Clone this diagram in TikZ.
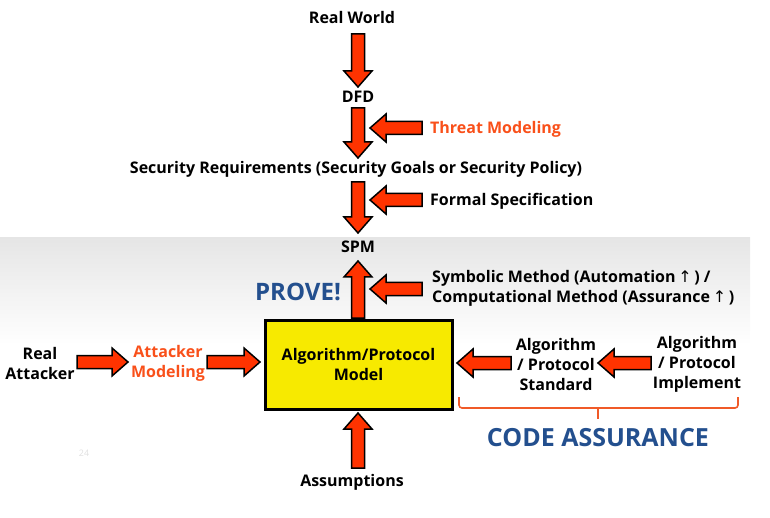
\documentclass[tikz,border=0pt]{standalone}
\usepackage{fontspec}
\setmainfont{Open Sans}[BoldFont={Open Sans Bold}]
\newfontfamily\symf{DejaVu Sans}
\usetikzlibrary{calc}
\definecolor{arrowred}{HTML}{FF3300}
\definecolor{txtorange}{HTML}{F9501A}
\definecolor{bracketorange}{HTML}{F05A28}
\definecolor{provblue}{HTML}{234F8E}
\definecolor{boxyellow}{HTML}{F7EA00}
\newcommand{\uparr}{{\symf\fontseries{m}\selectfont ↑}}
\tikzset{
  lbl/.style={font=\fontsize{16}{20}\selectfont\bfseries, inner sep=0pt, align=center},
  lblo/.style={lbl, text=txtorange},
  big/.style={font=\fontsize{24}{28}\selectfont\bfseries, text=provblue, inner sep=0pt},
  blockarrow/.style={draw=black, line width=1.5pt, fill=arrowred, line join=miter,
    to path={
      ($(\tikztostart)!6.5pt!90:(\tikztotarget)$) --
      ($(\tikztotarget)!16pt!(\tikztostart)!6.5pt!90:(\tikztotarget)$) --
      ($(\tikztotarget)!16pt!(\tikztostart)!14pt!90:(\tikztotarget)$) --
      (\tikztotarget) --
      ($(\tikztotarget)!16pt!(\tikztostart)!14pt!-90:(\tikztotarget)$) --
      ($(\tikztotarget)!16pt!(\tikztostart)!6.5pt!-90:(\tikztotarget)$) --
      ($(\tikztostart)!6.5pt!-90:(\tikztotarget)$) -- cycle
    }},
  bracket/.style={draw=bracketorange, line width=1.6pt, rounded corners=3pt}
}
\begin{document}
\begin{tikzpicture}[x=1pt,y=-1pt]
\useasboundingbox (0,0) rectangle (770,518);
% background band
\shade[top color=black!10, bottom color=white] (0,238) rectangle (750,345);
\node[text=black!12, font=\fontsize{9}{10}\selectfont] (pg) at (84,453) {24};

% texts
\node[lbl] (rw) at (352,18) {Real World};
\node[lbl] (dfd) at (358,97) {DFD};
\node[lbl] (sr) at (356,169) {Security Requirements (Security Goals or Security Policy)};
\node[lbl] (spm) at (358,247) {SPM};
\node[lblo, anchor=west] (tm) at (430,129) {Threat Modeling};
\node[lbl, anchor=west] (fs) at (430,201) {Formal Specification};
\node[lbl, anchor=west, align=left] (sym) at (432,288) {Symbolic Method (Automation\,\uparr\,) /\\Computational Method (Assurance\,\uparr\,)};
\node[big] (prove) at (298,292) {PROVE!};
\node[draw=black, line width=3pt, fill=boxyellow, minimum width=187pt, minimum height=89pt, lbl] (model) at (358.5,364.5) {Algorithm/Protocol\\Model};
\node[lbl] (ra) at (40,363) {Real\\Attacker};
\node[lblo] (am) at (168,363) {Attacker\\Modeling};
\node[lbl] (std) at (556,364) {Algorithm\\/ Protocol\\Standard};
\node[lbl] (impl) at (697,364) {Algorithm\\/ Protocol\\Implement};
\node[big, font=\fontsize{25}{28}\selectfont\bfseries] (code) at (598,438) {CODE ASSURANCE};
\node[lbl] (as) at (352,482) {Assumptions};

% arrow end points
\coordinate (a1s) at (358,34);  \coordinate (a1e) at (358,87);
\coordinate (a2s) at (358,108); \coordinate (a2e) at (358,158);
\coordinate (a3s) at (358,182); \coordinate (a3e) at (358,233);
\coordinate (a4s) at (358,318); \coordinate (a4e) at (358,261);
\coordinate (a5s) at (358,468); \coordinate (a5e) at (358,413);
\coordinate (h1s) at (422,128); \coordinate (h1e) at (370,128);
\coordinate (h2s) at (422,200); \coordinate (h2e) at (370,200);
\coordinate (h3s) at (422,289); \coordinate (h3e) at (370,289);
\coordinate (h4s) at (77,362);  \coordinate (h4e) at (128,362);
\coordinate (h5s) at (207,362); \coordinate (h5e) at (260,362);
\coordinate (h6s) at (511,363); \coordinate (h6e) at (457,363);
\coordinate (h7s) at (651,363); \coordinate (h7e) at (598,363);

\foreach \a in {a1,a2,a3,a4,a5,h1,h2,h3,h4,h5,h6,h7}
  \draw[blockarrow] (\a s) to (\a e);

% bracket
\coordinate (bl) at (459,397); \coordinate (br) at (738,397);
\coordinate (bm) at (598,408); \coordinate (bt) at (598,419);
\draw[bracket] (bl) -- (459,408) -- (738,408) -- (br);
\draw[bracket] (bm) -- (bt);
\end{tikzpicture}
\end{document}
